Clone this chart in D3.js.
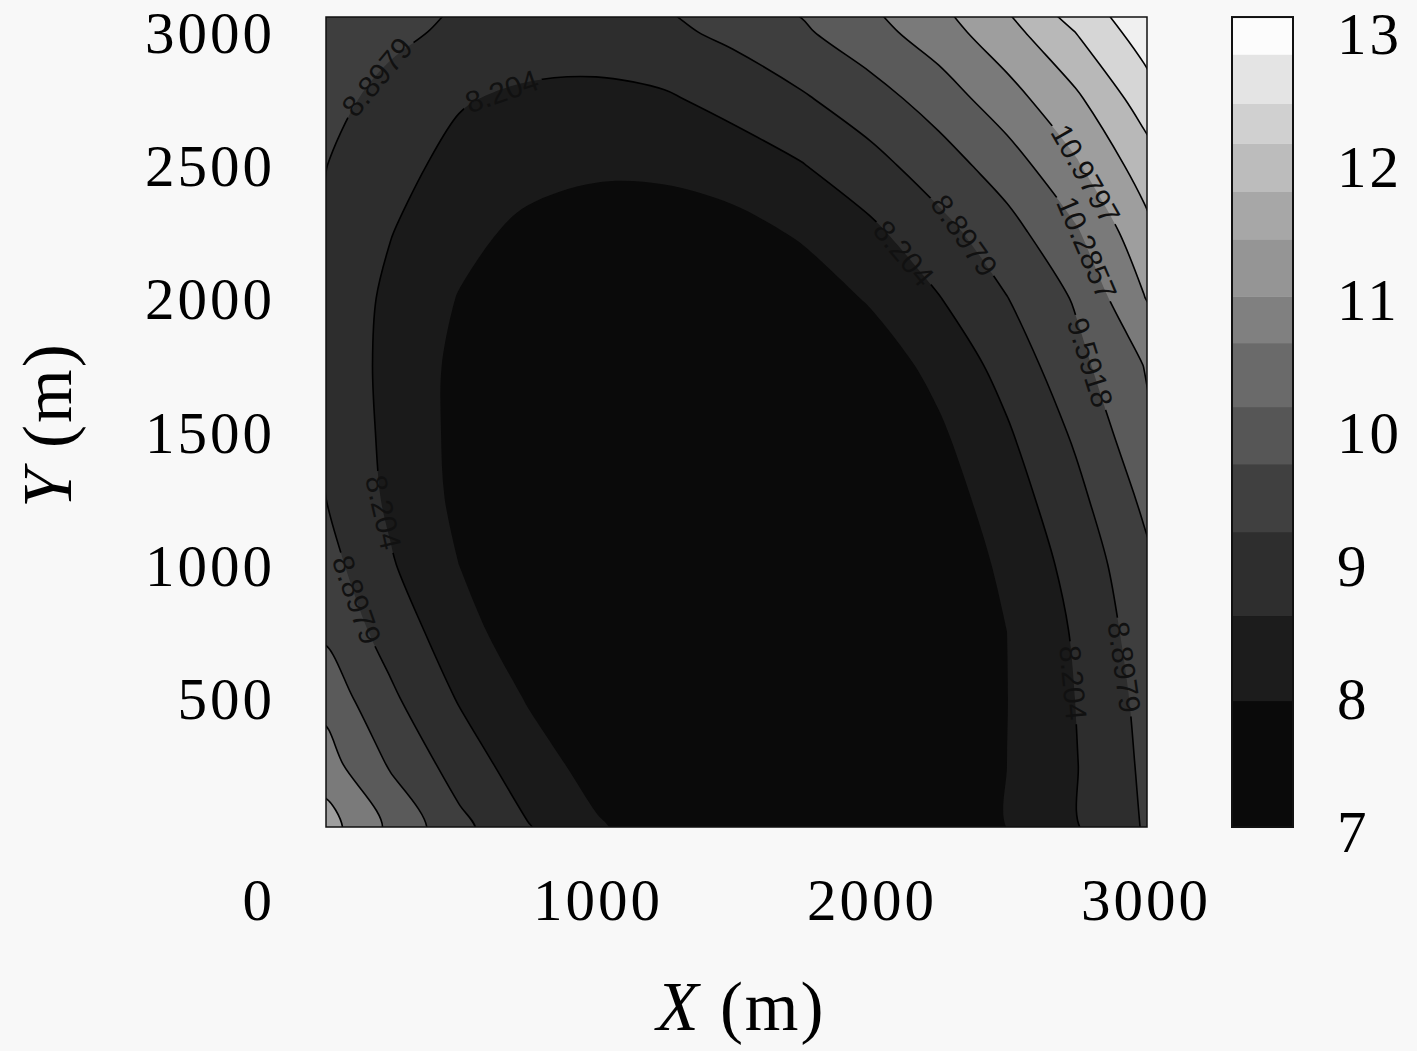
<!DOCTYPE html>
<html>
<head>
<meta charset="utf-8">
<script src="https://cdn.jsdelivr.net/npm/d3@7"></script>
<style>
  body { margin: 0; background: #f8f8f8; }
  .tick-label { font-family: 'Liberation Serif', 'DejaVu Serif', serif; font-size: 59px; letter-spacing: 3px; fill: #000; }
  .axis-title { font-family: 'Liberation Serif', 'DejaVu Serif', serif; font-size: 69px; letter-spacing: 2px; fill: #000; }
  .clabel { font-family: 'Liberation Sans', Arial, sans-serif; font-size: 30px; fill: #111; }
</style>
</head>
<body>
<svg id="chart" width="1417" height="1051"></svg>
<script>
// grid nodes of the field (m)
const gridX = [0, 250, 500, 750, 1000, 1250, 1500, 1750, 2000, 2250, 2500, 2750, 3000, 3250];
const gridY = [0, 250, 500, 750, 1000, 1250, 1500, 1750, 2000, 2250, 2500, 2750, 3000, 3250];

// field values, one row per gridY entry (x left -> right)
const fieldRows = [
  [11.35, 10.14, 9.11, 8.27, 7.61, 7.13, 6.84, 6.73, 6.80, 7.06, 7.50, 8.13, 8.94, 9.93],
  [10.63, 9.52, 8.59, 7.83, 7.25, 6.85, 6.63, 6.58, 6.71, 7.02, 7.51, 8.17, 9.01, 10.03],
  [10.07, 9.02, 8.15, 7.46, 6.94, 6.60, 6.43, 6.44, 6.62, 6.97, 7.50, 8.21, 9.09, 10.15],
  [9.48, 8.62, 7.78, 7.11, 6.63, 6.33, 6.20, 6.26, 6.50, 6.91, 7.51, 8.28, 9.24, 10.38],
  [9.21, 8.27, 7.51, 6.93, 6.51, 6.27, 6.20, 6.30, 6.58, 7.03, 7.65, 8.44, 9.41, 10.54],
  [8.95, 8.08, 7.36, 6.81, 6.44, 6.24, 6.22, 6.37, 6.69, 7.19, 7.86, 8.70, 9.72, 10.91],
  [8.86, 8.02, 7.33, 6.82, 6.48, 6.32, 6.33, 6.52, 6.88, 7.41, 8.13, 9.01, 10.08, 11.26],
  [8.81, 7.99, 7.35, 6.88, 6.59, 6.46, 6.52, 6.74, 7.14, 7.71, 8.46, 9.38, 10.30, 11.40],
  [8.79, 8.05, 7.48, 7.08, 6.84, 6.77, 6.87, 7.14, 7.57, 8.17, 8.88, 9.66, 10.95, 12.37],
  [8.84, 8.23, 7.71, 7.36, 7.17, 7.14, 7.28, 7.59, 8.06, 8.67, 9.33, 10.20, 11.43, 12.78],
  [8.94, 8.42, 8.01, 7.74, 7.63, 7.66, 7.84, 8.17, 8.66, 9.26, 9.94, 10.89, 11.99, 13.20],
  [9.15, 8.68, 8.26, 8.07, 8.01, 8.12, 8.43, 8.81, 9.30, 9.90, 10.70, 11.54, 12.69, 13.96],
  [9.45, 9.06, 8.76, 8.60, 8.60, 8.74, 9.06, 9.49, 10.02, 10.66, 11.42, 12.37, 13.39, 14.50],
  [9.89, 9.37, 9.07, 8.99, 8.99, 9.18, 9.72, 9.97, 10.59, 11.27, 12.21, 13.16, 14.18, 15.30]
];

const levels = [7.5102, 8.204, 8.8979, 9.5918, 10.2857, 10.9797, 11.6735, 12.3673, 13.0612];
const lineLevels = [8.204, 8.8979, 9.5918, 10.2857, 10.9797, 11.6735, 12.3673, 13.0612];
// grey of each filled band, from below the first level to above the last
const bandGrays = [10, 26, 45, 62, 90, 122, 158, 184, 214, 240];

// where the inline contour labels sit (m)
const labelSpots = [
  { level: 8.8979, x: 223, y: 2813 },
  { level: 8.204, x: 668, y: 2745 },
  { level: 8.204, x: 2128, y: 2174 },
  { level: 8.8979, x: 2336, y: 2231 },
  { level: 10.9797, x: 2792, y: 2471 },
  { level: 10.2857, x: 2774, y: 2182 },
  { level: 9.5918, x: 2796, y: 1757 },
  { level: 8.204, x: 230, y: 1198 },
  { level: 8.8979, x: 124, y: 867 },
  { level: 8.204, x: 2737, y: 556 },
  { level: 8.8979, x: 2931, y: 616 }
];

// colour bar steps
const cbEdges = [7.03, 7.98, 8.62, 9.25, 9.76, 10.19, 10.67, 11.02, 11.45, 11.81, 12.17, 12.47, 12.84, 13.12];
const cbGrays = [10, 28, 46, 64, 86, 106, 128, 149, 167, 188, 208, 228, 252];

const xTicks = [0, 1000, 2000, 3000];
const yTicks = [500, 1000, 1500, 2000, 2500, 3000];
const cbTicks = [7, 8, 9, 10, 11, 12, 13];

(function () {
    const width = 1417, height = 1051;
    const plot = { left: 326, right: 1147, top: 17, bottom: 827 };
    const bar = { left: 1232, right: 1293 };

    const svg = d3.select('#chart');
    svg.append('rect').attr('width', width).attr('height', height).attr('fill', '#f8f8f8');

    const xScale = d3.scaleLinear().domain([15, 3011]).range([plot.left, plot.right]);
    const yScale = d3.scaleLinear().domain([15, 3057]).range([plot.bottom, plot.top]);
    const cbScale = d3.scaleLinear().domain([7, 13]).range([831, 33]);
    const grey = (g) => d3.rgb(g, g, g).formatHex();

    // contour space -> pixels (d3.contours puts value i at i + 0.5)
    const stepX = gridX[1] - gridX[0];
    const stepY = gridY[1] - gridY[0];
    const toPx = ([cx, cy]) => [
        xScale(gridX[0] + (cx - 0.5) * stepX),
        yScale(gridY[0] + (cy - 0.5) * stepY)
    ];

    // rounded rings instead of the raw marching-squares polygons
    const ringLine = d3.line().curve(d3.curveCatmullRomClosed.alpha(0.5));
    const smoothPath = (d) => d.coordinates
        .map(poly => poly.map(ring => ringLine(ring.slice(0, -1).map(toPx))).join(''))
        .join('');

    const contours = d3.contours()
        .size([gridX.length, gridY.length])
        .thresholds(levels)(fieldRows.flat());

    const defs = svg.append('defs');
    defs.append('clipPath').attr('id', 'plotClip').append('rect')
        .attr('x', plot.left).attr('y', plot.top)
        .attr('width', plot.right - plot.left).attr('height', plot.bottom - plot.top);

    const mask = defs.append('mask').attr('id', 'labelGaps')
        .attr('maskUnits', 'userSpaceOnUse')
        .attr('x', 0).attr('y', 0).attr('width', width).attr('height', height);
    mask.append('rect').attr('width', width).attr('height', height).attr('fill', '#fff');

    // filled bands
    const fills = svg.append('g').attr('clip-path', 'url(#plotClip)');
    fills.append('rect')
        .attr('x', plot.left).attr('y', plot.top)
        .attr('width', plot.right - plot.left).attr('height', plot.bottom - plot.top)
        .attr('fill', grey(bandGrays[0]));
    fills.selectAll('path')
        .data(contours)
        .join('path')
        .attr('d', smoothPath)
        .attr('fill-rule', 'evenodd')
        .attr('fill', (d, i) => grey(bandGrays[i + 1]));

    // contour lines, broken where a label sits
    const lines = svg.append('g').attr('clip-path', 'url(#plotClip)')
        .append('g').attr('mask', 'url(#labelGaps)');
    lines.selectAll('path')
        .data(contours.filter(d => lineLevels.includes(d.value)))
        .join('path')
        .attr('d', smoothPath)
        .attr('fill', 'none')
        .attr('stroke', '#000')
        .attr('stroke-width', 1.6);

    // inline labels, snapped onto their contour
    const fmt = d3.format('.4~f');
    const labels = svg.append('g').attr('clip-path', 'url(#plotClip)');
    labelSpots.forEach((spot) => {
        const target = [xScale(spot.x), yScale(spot.y)];
        const contour = contours.find(d => d.value === spot.level);
        let best = null;
        contour.coordinates.forEach(poly => poly.forEach(ring => {
            const pts = ring.map(toPx);
            for (let i = 1; i < pts.length; i++) {
                const a = pts[i - 1], b = pts[i];
                const dx = b[0] - a[0], dy = b[1] - a[1];
                const len2 = dx * dx + dy * dy || 1;
                const t = Math.max(0, Math.min(1, ((target[0] - a[0]) * dx + (target[1] - a[1]) * dy) / len2));
                const px = a[0] + t * dx, py = a[1] + t * dy;
                const dist = (px - target[0]) ** 2 + (py - target[1]) ** 2;
                if (!best || dist < best.dist) {
                    best = { dist, x: px, y: py, angle: Math.atan2(dy, dx) * 180 / Math.PI };
                }
            }
        }));
        if (!best) return;
        let angle = best.angle;
        if (angle > 90) angle -= 180;
        if (angle < -90) angle += 180;
        const transform = `translate(${best.x},${best.y}) rotate(${angle})`;
        const text = labels.append('text')
            .attr('class', 'clabel')
            .attr('transform', transform)
            .attr('text-anchor', 'middle')
            .attr('dy', '0.36em')
            .text(fmt(spot.level));
        const w = text.node().getComputedTextLength();
        mask.append('rect')
            .attr('x', -w / 2 - 4).attr('y', -12)
            .attr('width', w + 8).attr('height', 24)
            .attr('transform', transform)
            .attr('fill', '#000');
    });

    // frame
    svg.append('rect')
        .attr('x', plot.left).attr('y', plot.top)
        .attr('width', plot.right - plot.left).attr('height', plot.bottom - plot.top)
        .attr('fill', 'none').attr('stroke', '#111').attr('stroke-width', 1.5);

    // tick labels
    const yLabelRight = 275;
    svg.append('g').selectAll('text')
        .data(yTicks)
        .join('text')
        .attr('class', 'tick-label')
        .attr('x', yLabelRight)
        .attr('y', d => yScale(d) + 21)
        .attr('text-anchor', 'end')
        .text(d => d);

    svg.append('g').selectAll('text')
        .data(xTicks)
        .join('text')
        .attr('class', 'tick-label')
        // the origin label sits in the y-label column
        .attr('x', d => d === 0 ? yLabelRight : xScale(d) + 2)
        .attr('y', 920)
        .attr('text-anchor', d => d === 0 ? 'end' : 'middle')
        .text(d => d);

    // axis titles
    const yTitle = svg.append('text')
        .attr('class', 'axis-title')
        .attr('transform', 'translate(71,425) rotate(-90)')
        .attr('text-anchor', 'middle');
    yTitle.append('tspan').attr('font-style', 'italic').text('Y');
    yTitle.append('tspan').text(' (m)');

    const xTitle = svg.append('text')
        .attr('class', 'axis-title')
        .attr('x', 741).attr('y', 1030)
        .attr('text-anchor', 'middle');
    xTitle.append('tspan').attr('font-style', 'italic').text('X');
    xTitle.append('tspan').text(' (m)');

    // colour bar
    const cb = svg.append('g');
    cb.selectAll('rect.step')
        .data(d3.pairs(cbEdges))
        .join('rect')
        .attr('class', 'step')
        .attr('x', bar.left)
        .attr('width', bar.right - bar.left)
        .attr('y', d => cbScale(d[1]))
        .attr('height', d => cbScale(d[0]) - cbScale(d[1]) + 0.5)
        .attr('fill', (d, i) => grey(cbGrays[i]));
    cb.append('rect')
        .attr('x', bar.left)
        .attr('y', cbScale(cbEdges[cbEdges.length - 1]))
        .attr('width', bar.right - bar.left)
        .attr('height', cbScale(cbEdges[0]) - cbScale(cbEdges[cbEdges.length - 1]))
        .attr('fill', 'none').attr('stroke', '#111').attr('stroke-width', 2);

    cb.selectAll('text')
        .data(cbTicks)
        .join('text')
        .attr('class', 'tick-label')
        .attr('x', 1337)
        .attr('y', d => cbScale(d) + 21)
        .text(d => d);
})();
</script>
</body>
</html>
